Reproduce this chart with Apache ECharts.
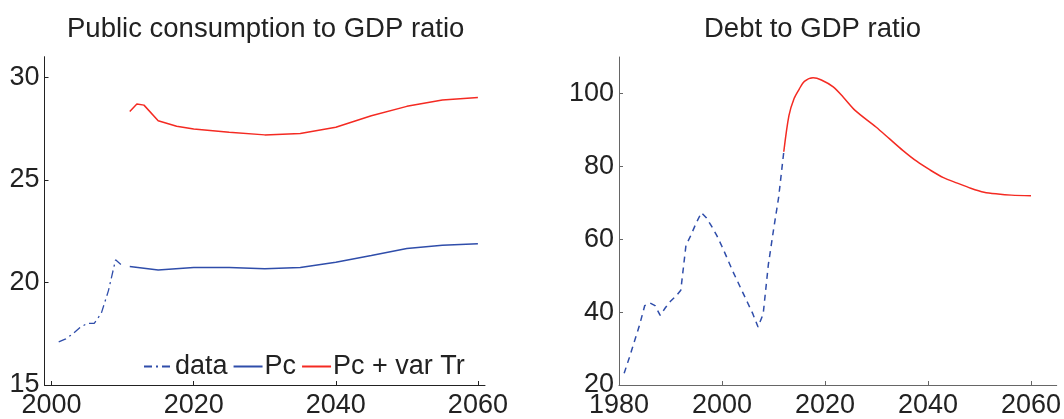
<!DOCTYPE html>
<html>
<head>
<meta charset="utf-8">
<title>Public consumption and debt</title>
<script src="https://cdn.jsdelivr.net/npm/echarts@6/dist/echarts.min.js"></script>
<style>
  html, body { margin: 0; padding: 0; background: #fff; }
  #chart { width: 1064px; height: 419px; }
</style>
</head>
<body>
<div id="chart"></div>
<script>
// left panel: public consumption to GDP ratio
var pcDataYears = [2001, 2002, 2003, 2004, 2005, 2006, 2007, 2008, 2009, 2010];
var pcDataVals  = [17.1, 17.25, 17.5, 17.8, 18.0, 18.0, 18.5, 19.6, 21.1, 20.8];
var pcYears = [2011, 2015, 2020, 2025, 2030, 2035, 2040, 2045, 2050, 2055, 2060];
var pcVals  = [20.77, 20.6, 20.73, 20.73, 20.67, 20.73, 20.98, 21.31, 21.65, 21.81, 21.89];
var pcTrYears = [2011, 2012, 2013, 2015, 2017.6, 2020, 2025, 2030, 2035, 2040, 2045, 2050, 2055, 2060];
var pcTrVals  = [28.33, 28.69, 28.64, 27.88, 27.61, 27.48, 27.32, 27.19, 27.26, 27.56, 28.12, 28.58, 28.89, 29.01];

// right panel: debt to GDP ratio
var debtDataYears = [1981, 1982, 1983, 1984, 1985, 1986, 1987, 1988, 1989, 1990, 1991, 1992, 1993, 1994, 1995, 1996,
                     1997, 1998, 1999, 2000, 2001, 2002, 2003, 2004, 2005, 2006, 2007, 2008, 2009, 2010, 2011, 2012];
var debtDataVals  = [23.2, 27.5, 32.0, 36.5, 41.8, 42.5, 41.8, 39.1, 41.2, 43.0, 44.3, 46.0, 58.3, 61.2, 64.5, 67.3,
                     65.8, 63.5, 61.0, 58.0, 54.8, 51.5, 48.5, 45.5, 42.5, 39.5, 35.9, 39.5, 53.0, 62.5, 71.5, 84.0];
var debtYears = [2012, 2013, 2014, 2015, 2016, 2017.7, 2019.3, 2021.6, 2023.6, 2025.9, 2029.9, 2032.5, 2035.1,
                 2037.8, 2040.4, 2043, 2045.7, 2048.3, 2050.9, 2053.6, 2056.2, 2060];
var debtVals  = [84.0, 93.9, 98.6, 101.2, 103.3, 104.3, 103.7, 101.8, 98.9, 95.3, 90.8, 87.6, 84.4,
                 81.4, 79.0, 76.9, 75.4, 74.0, 72.9, 72.4, 72.1, 71.9];

var leftXTicks = [2000, 2020, 2040, 2060];
var rightXTicks = [1980, 2000, 2020, 2040, 2060];

function pairs(xs, ys) {
  var out = [];
  for (var i = 0; i < xs.length; i++) out.push([xs[i], ys[i]]);
  return out;
}

var FONT = 'Liberation Sans';
var BLUE = '#2F4DAA';
var RED = '#F42A22';
var TXT = '#222';
var plain = function (v) { return String(v); };

function xAxisFor(idx, min, max, ticks, color) {
  return {
    type: 'value', gridIndex: idx, min: min, max: max,
    splitLine: { show: false },
    axisLine: { onZero: false, lineStyle: { color: color, width: 1 } },
    axisTick: { inside: true, length: 4, customValues: ticks, lineStyle: { color: color } },
    axisLabel: { customValues: ticks, formatter: plain, color: TXT, fontFamily: FONT, fontSize: 27, margin: 7 }
  };
}
function yAxisFor(idx, min, max, step, color) {
  return {
    type: 'value', gridIndex: idx, min: min, max: max, interval: step,
    splitLine: { show: false },
    axisLine: { show: true, onZero: false, lineStyle: { color: color, width: 1 } },
    axisTick: { show: true, inside: true, length: 4, lineStyle: { color: color } },
    axisLabel: { formatter: plain, showMaxLabel: false, color: TXT, fontFamily: FONT, fontSize: 27, margin: 5 }
  };
}

var chart = echarts.init(document.getElementById('chart'));
chart.setOption({
  animation: false,
  title: [
    { text: 'Public consumption to GDP ratio', left: 62, top: 10,
      textStyle: { fontFamily: FONT, fontSize: 27.5, fontWeight: 'normal', color: TXT } },
    { text: 'Debt to GDP ratio', left: 699, top: 10,
      textStyle: { fontFamily: FONT, fontSize: 27.5, fontWeight: 'normal', color: TXT } }
  ],
  legend: {
    left: 138, top: 348, itemWidth: 29, itemHeight: 10, itemGap: 5,
    data: ['data', 'Pc', 'Pc + var Tr'],
    itemStyle: { opacity: 0 },
    textStyle: { fontFamily: FONT, fontSize: 27, color: TXT, padding: [0, 0, 0, -3] }
  },
  grid: [
    { left: 44.5, top: 56.7, width: 440.5, height: 332.3 },
    { left: 619, top: 57, width: 440.3, height: 331.6 }
  ],
  xAxis: [
    xAxisFor(0, 1999, 2061, leftXTicks, '#222'),
    xAxisFor(1, 1980, 2065, rightXTicks, '#666')
  ],
  yAxis: [
    yAxisFor(0, 15, 31, 5, '#222'),
    yAxisFor(1, 20, 110, 20, '#666')
  ],
  series: [
    { name: 'data', type: 'line', xAxisIndex: 0, yAxisIndex: 0, symbol: 'none',
      lineStyle: { color: BLUE, width: 1.3, type: [8, 4, 2, 4] }, itemStyle: { color: BLUE },
      data: pairs(pcDataYears, pcDataVals) },
    { name: 'Pc', type: 'line', xAxisIndex: 0, yAxisIndex: 0, symbol: 'none',
      lineStyle: { color: BLUE, width: 1.5 }, itemStyle: { color: BLUE },
      data: pairs(pcYears, pcVals) },
    { name: 'Pc + var Tr', type: 'line', xAxisIndex: 0, yAxisIndex: 0, symbol: 'none',
      lineStyle: { color: RED, width: 1.5 }, itemStyle: { color: RED },
      data: pairs(pcTrYears, pcTrVals) },
    { name: 'debt data', type: 'line', xAxisIndex: 1, yAxisIndex: 1, symbol: 'none',
      lineStyle: { color: BLUE, width: 1.5, type: [6, 5] },
      data: pairs(debtDataYears, debtDataVals) },
    { name: 'debt', type: 'line', xAxisIndex: 1, yAxisIndex: 1, symbol: 'none', smooth: 0.3,
      lineStyle: { color: RED, width: 1.5 },
      data: pairs(debtYears, debtVals) }
  ]
});
</script>
</body>
</html>
